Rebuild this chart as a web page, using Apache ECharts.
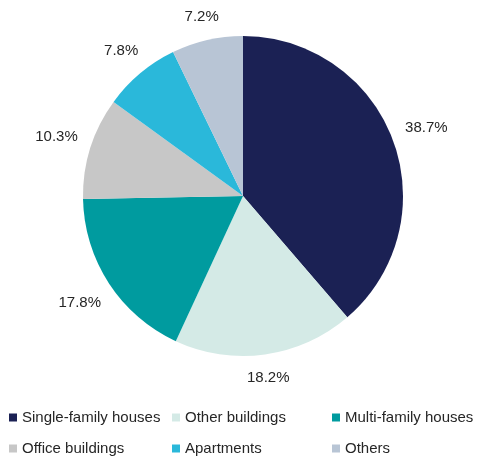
<!DOCTYPE html>
<html>
<head>
<meta charset="utf-8">
<script src="https://cdn.jsdelivr.net/npm/echarts@6/dist/echarts.min.js"></script>
<style>
html,body{margin:0;padding:0;background:#fff;}
#chart{width:483px;height:456px;}
</style>
</head>
<body>
<div id="chart"></div>
<script>
var categories = ['Single-family houses', 'Other buildings', 'Multi-family houses', 'Office buildings', 'Apartments', 'Others'];
var shares = [38.7, 18.2, 17.8, 10.3, 7.8, 7.2];
var colors = ['#1B2154', '#D4EAE6', '#009B9F', '#C7C7C7', '#2AB8DA', '#B8C5D5'];

var CX = 243, CY = 196, RADIUS = 160, GAP = 13;
var total = shares.reduce(function (a, b) { return a + b; }, 0);

var chart = echarts.init(document.getElementById('chart'));
var font = 'Liberation Sans, Arial, sans-serif';

function legendCol(left, items) {
  return {
    orient: 'vertical',
    left: left,
    top: 404,
    height: 70,
    itemWidth: 8,
    itemHeight: 8,
    itemGap: 14,
    icon: 'rect',
    data: items,
    textStyle: { fontSize: 15, color: '#262626', fontFamily: font, lineHeight: 17 },
    selectedMode: false
  };
}

chart.setOption({
  animation: false,
  color: colors,
  legend: [
    legendCol(4, [categories[0], categories[3]]),
    legendCol(167, [categories[1], categories[4]]),
    legendCol(327, [categories[2], categories[5]])
  ],
  series: [{
    type: 'pie',
    center: [CX, CY],
    radius: RADIUS,
    startAngle: 90,
    clockwise: true,
    avoidLabelOverlap: false,
    data: categories.map(function (c, i) { return { name: c, value: shares[i] }; }),
    itemStyle: { borderWidth: 0 },
    label: {
      show: true,
      position: 'outside',
      formatter: function (p) { return p.value.toFixed(1) + '%'; },
      fontSize: 15,
      color: '#262626',
      fontFamily: font
    },
    labelLine: { show: false, length: 12, length2: 0 },
    emphasis: { disabled: true },
    labelLayout: function (p) {
      if (p.dataIndex == null) return {};
      var cum = 0;
      for (var i = 0; i < p.dataIndex; i++) cum += shares[i];
      var mid = (cum + shares[p.dataIndex] / 2) / total * Math.PI * 2;
      var ux = Math.sin(mid), uy = -Math.cos(mid);
      var hw = p.labelRect.width / 2, hh = p.labelRect.height / 2;
      var R = RADIUS + GAP + hw * Math.abs(ux) + hh * Math.abs(uy);
      return { x: CX + ux * R, y: CY + uy * R, align: 'center', verticalAlign: 'middle' };
    }
  }]
});
</script>
</body>
</html>
